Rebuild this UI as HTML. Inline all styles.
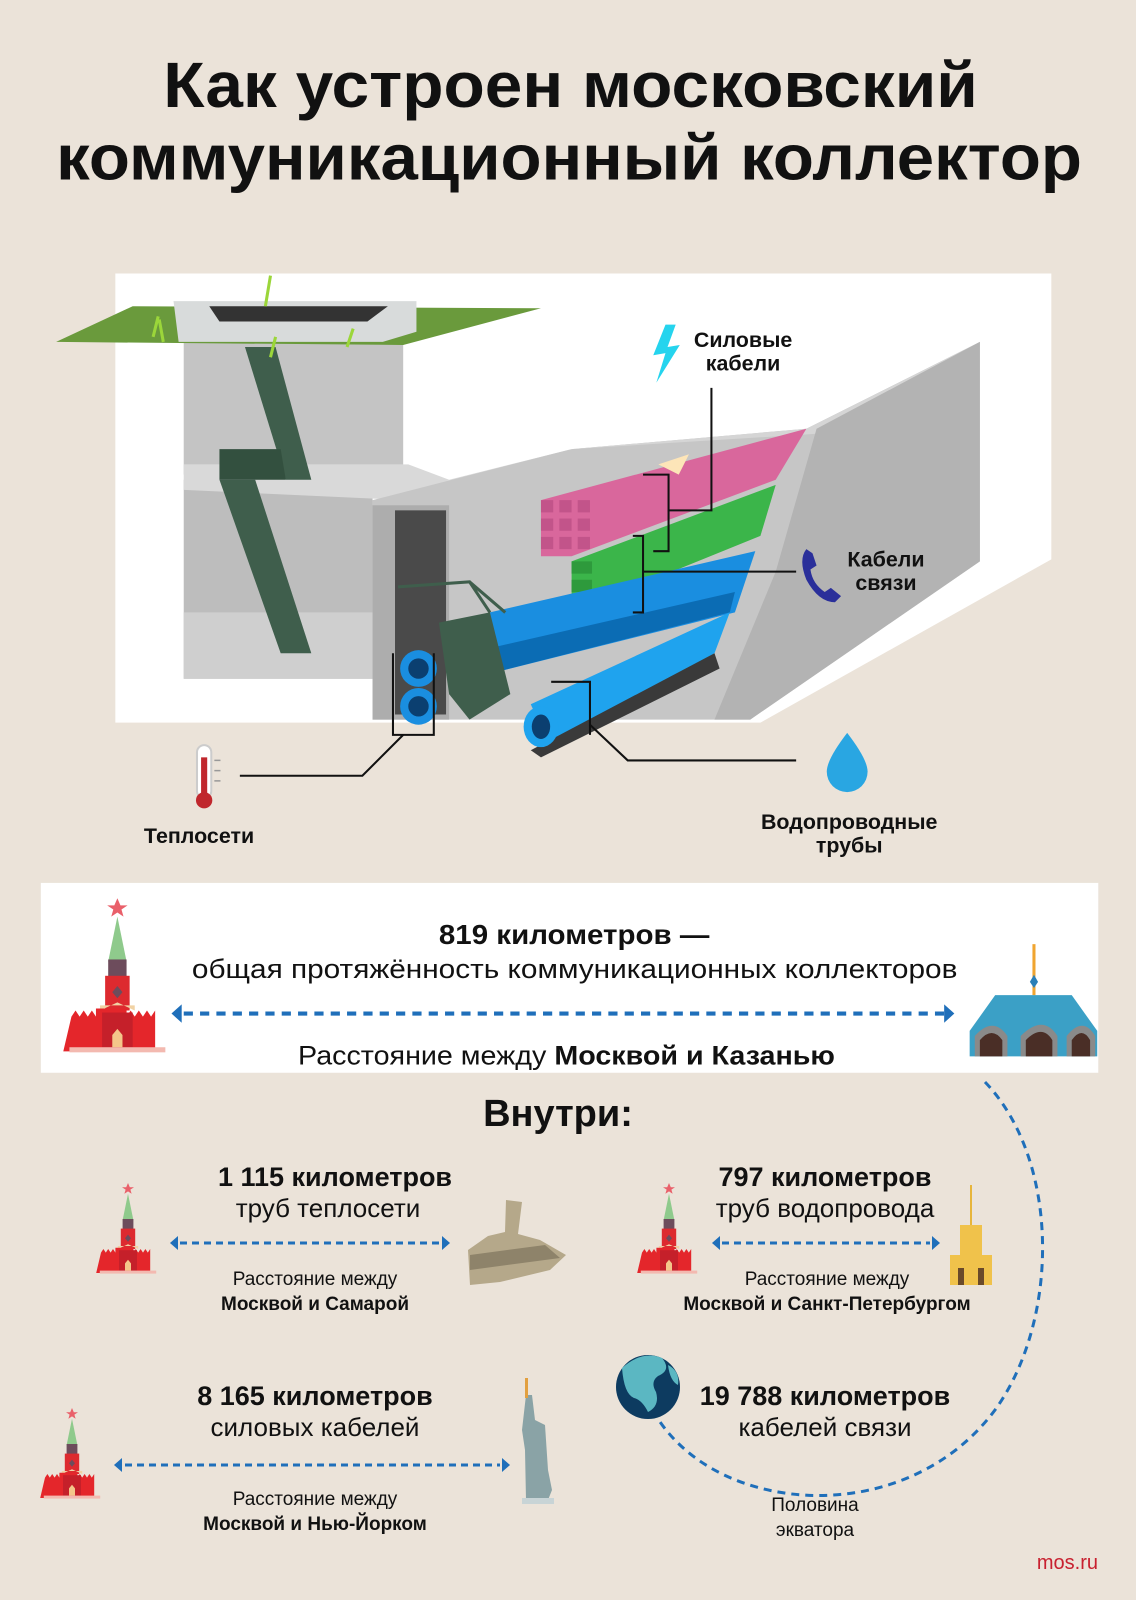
<!DOCTYPE html>
<html><head><meta charset="utf-8">
<style>
html,body{margin:0;padding:0;background:#ebe3d9;}
svg{display:block;}
text{font-family:"Liberation Sans","Noto Sans CJK SC",sans-serif;fill:#111;}
.b{font-weight:bold;}
</style></head>
<body>
<svg width="1136" height="1600" viewBox="0 0 1136 1600" xmlns="http://www.w3.org/2000/svg">
<defs>
<g id="kr">
  <polygon points="45,0 48,7 55,7 49,11 51,18 45,14 39,18 41,11 35,7 42,7" fill="#e9606a"/>
  <polygon points="45,18 36,62 54,62" fill="#8fca8c"/>
  <rect x="36" y="60" width="18" height="18" fill="#6d4c5c"/>
  <rect x="33" y="76" width="24" height="34" fill="#dd2a2f"/>
  <polygon points="45,86 50,92 45,98 40,92" fill="#6d4c5c"/>
  <polygon points="28,105 62,105 62,110 45,102 28,110" fill="#f1d2a4"/>
  <path d="M0,116 l4,-6 4,6 4,-6 4,6 4,-6 4,6 0,-8 30,0 0,8 4,-6 4,6 4,-6 4,6 4,-6 4,6 4,-6 0,40 -90,0z" fill="#e4262b"/>
  <rect x="30" y="112" width="30" height="34" fill="#c5202a"/>
  <polygon points="40,146 40,134 45,128 50,134 50,146" fill="#f4c68a"/>
  <rect x="-2" y="146" width="94" height="5" fill="#f3b9b0"/>
</g>
</defs>

<g transform="scale(1.0207)">
<!-- Title -->
<text x="160" y="105" class="b" font-size="63" textLength="798" lengthAdjust="spacingAndGlyphs">Как устроен московский</text>
<text x="55" y="176" class="b" font-size="63" textLength="1005" lengthAdjust="spacingAndGlyphs">коммуникационный коллектор</text>

<!-- white illustration area -->
<polygon points="113,268 1030,268 1030,548 745,708 113,708" fill="#ffffff"/>

<rect x="180" y="330" width="215" height="135" fill="#c4c4c4"/>
<rect x="180" y="470" width="185" height="195" fill="#bdbdbd"/>
<polygon points="180,600 365,600 365,665 180,665" fill="#cfcfcf"/>
<polygon points="180,455 400,455 440,470 560,440 400,490 180,480" fill="#d9d9d9"/>
<polygon points="365,490 560,440 790,420 960,335 960,550 735,705 365,705" fill="#c6c6c6"/>
<polygon points="560,440 790,420 960,335 960,345 800,425" fill="#d5d5d5"/>
<polygon points="800,420 960,335 960,550 735,705 700,705 760,560" fill="#b3b3b3"/>
<polygon points="365,495 440,495 440,705 365,705" fill="#adadad"/>
<rect x="387" y="500" width="50" height="200" fill="#4a4a4a"/>
<polygon points="240,340 270,340 305,470 280,470" fill="#3f5e4c"/>
<polygon points="215,470 250,470 305,640 275,640" fill="#3f5e4c"/>
<polygon points="215,440 275,440 280,470 215,470" fill="#33503f"/>
<polygon points="55,335 130,300 530,302 395,338" fill="#6a9a3c"/>
<polygon points="170,295 408,295 408,325 375,335 175,335" fill="#d8dbdb"/>
<polygon points="205,300 380,300 360,315 215,315" fill="#333"/>
<path d="M150,330 l5,-20 M160,335 l-4,-22 M260,300 l5,-30 M265,350 l5,-20 M340,340 l6,-18" stroke="#9bd63a" stroke-width="3"/>
<polygon points="530,490 790,420 760,470 560,545 530,545" fill="#d9679c"/>
<g fill="#c2548a">
<rect x="530" y="490" width="12" height="12"/><rect x="548" y="490" width="12" height="12"/><rect x="566" y="490" width="12" height="12"/>
<rect x="530" y="508" width="12" height="12"/><rect x="548" y="508" width="12" height="12"/><rect x="566" y="508" width="12" height="12"/>
<rect x="530" y="526" width="12" height="12"/><rect x="548" y="526" width="12" height="12"/><rect x="566" y="526" width="12" height="12"/>
</g>
<polygon points="645,455 675,445 665,465" fill="#fde5b8"/>
<polygon points="560,550 760,475 745,525 560,600" fill="#3bb54a"/>
<g fill="#2e9a3c"><rect x="560" y="550" width="20" height="12"/><rect x="560" y="568" width="20" height="12"/><rect x="560" y="586" width="20" height="12"/></g>
<polygon points="480,600 740,540 720,600 480,660" fill="#1a8ee0"/>
<polygon points="480,635 720,580 715,600 480,660" fill="#0b6cb4"/>
<polygon points="520,690 715,600 700,640 540,735" fill="#1fa3ee"/>
<polygon points="520,735 700,640 705,655 530,742" fill="#3a3a3a"/>
<circle cx="410" cy="655" r="18" fill="#1a8ee0"/><circle cx="410" cy="655" r="10" fill="#0b3f70"/>
<circle cx="410" cy="692" r="18" fill="#1a8ee0"/><circle cx="410" cy="692" r="10" fill="#0b3f70"/>
<ellipse cx="530" cy="712" rx="17" ry="20" fill="#1fa3ee"/><ellipse cx="530" cy="712" rx="9" ry="12" fill="#0b3f70"/>
<polygon points="430,610 480,600 500,680 460,705 440,680" fill="#3f5e4c"/>
<path d="M390,575 L460,570 L480,600 M460,570 L495,600" stroke="#3f5e4c" stroke-width="3" fill="none"/>

<g stroke="#111" stroke-width="2" fill="none">
<polyline points="697,380 697,500 655,500 655,465 630,465"/>
<polyline points="655,500 655,540 640,540"/>
<polyline points="780,560 630,560 630,600 620,600"/>
<polyline points="630,560 630,525 620,525"/>
<polyline points="385,640 385,720 425,720 425,640"/>
<polyline points="395,720 355,760 235,760"/>
<polyline points="540,668 578,668 578,720"/>
<polyline points="578,710 615,745 780,745"/>
</g>

<polygon points="652,318 640,348 652,346 643,375 666,338 654,340 662,318" fill="#25d4ee"/>
<path d="M790,538 q-8,10 0,30 q12,22 28,22 l6,-6 -10,-8 -6,4 q-12,-8 -14,-22 l6,-4 -4,-12z" fill="#2a2f9a"/>
<path d="M830,718 q-20,26 -20,38 a20,20 0 0 0 40,0 q0,-12 -20,-38z" fill="#29a6e2"/>
<rect x="193" y="730" width="14" height="52" rx="7" fill="#fff" stroke="#ccc" stroke-width="2"/>
<rect x="197" y="742" width="6" height="38" fill="#c0272d"/>
<circle cx="200" cy="784" r="8" fill="#c0272d"/>
<path d="M210,745 h6 M210,755 h6 M210,765 h6" stroke="#999" stroke-width="1.5"/>

<text x="728" y="340" text-anchor="middle" class="b" font-size="21">Силовые</text>
<text x="728" y="363" text-anchor="middle" class="b" font-size="21">кабели</text>
<text x="868" y="555" text-anchor="middle" class="b" font-size="21">Кабели</text>
<text x="868" y="578" text-anchor="middle" class="b" font-size="21">связи</text>
<text x="195" y="826" text-anchor="middle" class="b" font-size="21">Теплосети</text>
<text x="832" y="812" text-anchor="middle" class="b" font-size="21">Водопроводные</text>
<text x="832" y="835" text-anchor="middle" class="b" font-size="21">трубы</text>

<rect x="40" y="865" width="1036" height="186" fill="#fff"/>
<use href="#kr" x="70" y="880"/>
<text x="430" y="925" class="b" font-size="27" textLength="265" lengthAdjust="spacingAndGlyphs">819 километров —</text>
<text x="188" y="958" font-size="26" textLength="750" lengthAdjust="spacingAndGlyphs">общая протяжённость коммуникационных коллекторов</text>
<line x1="180" y1="993" x2="925" y2="993" stroke="#1f6fba" stroke-width="4" stroke-dasharray="9,7"/>
<polygon points="168,993 178,984 178,1002" fill="#1f6fba"/>
<polygon points="935,993 925,984 925,1002" fill="#1f6fba"/>
<text x="292" y="1043" font-size="26" textLength="526" lengthAdjust="spacingAndGlyphs">Расстояние между <tspan class="b">Москвой и Казанью</tspan></text>
<line x1="1013" y1="925" x2="1013" y2="975" stroke="#f0a530" stroke-width="3"/>
<polygon points="1013,955 1017,962 1013,968 1009,962" fill="#2a7fb8"/>
<polygon points="975,975 1050,975 1075,1010 1075,1035 950,1035 950,1010" fill="#3ba0c6"/>
<path d="M955,1035 v-20 q18,-20 32,0 v20z M1000,1035 v-20 q22,-22 36,0 v20z M1045,1035 v-20 q16,-20 28,0 v20z" fill="#8a8a8a"/>
<path d="M960,1035 v-16 q12,-14 22,0 v16z M1005,1035 v-16 q16,-16 26,0 v16z M1050,1035 v-16 q10,-14 18,0 v16z" fill="#4a2e26"/>
</g>

<!-- Внутри -->
<text x="558" y="1126" text-anchor="middle" class="b" font-size="38">Внутри:</text>
<path d="M985,1082 C1060,1160 1060,1320 995,1410 C935,1490 835,1508 760,1488 C710,1475 670,1445 650,1405" fill="none" stroke="#1f6fba" stroke-width="3" stroke-dasharray="8,6"/>

<use href="#kr" transform="translate(101,1183) scale(0.6)"/>
<text x="335" y="1186" text-anchor="middle" class="b" font-size="27">1 115 километров</text>
<text x="328" y="1217" text-anchor="middle" font-size="26">труб теплосети</text>
<line x1="180" y1="1243" x2="440" y2="1243" stroke="#1f6fba" stroke-width="3" stroke-dasharray="7,5"/>
<polygon points="170,1243 178,1236 178,1250" fill="#1f6fba"/><polygon points="450,1243 442,1236 442,1250" fill="#1f6fba"/>
<text x="315" y="1285" text-anchor="middle" font-size="19">Расстояние между</text>
<text x="315" y="1310" text-anchor="middle" class="b" font-size="19">Москвой и Самарой</text>
<polygon points="488,1236 505,1232 506,1200 522,1202 518,1234 540,1240 566,1255 550,1270 500,1282 470,1285 468,1250" fill="#b5a88a"/>
<polygon points="470,1255 545,1245 560,1258 470,1270" fill="#8e836a"/>

<use href="#kr" transform="translate(642,1183) scale(0.6)"/>
<text x="825" y="1186" text-anchor="middle" class="b" font-size="27">797 километров</text>
<text x="825" y="1217" text-anchor="middle" font-size="26">труб водопровода</text>
<line x1="722" y1="1243" x2="930" y2="1243" stroke="#1f6fba" stroke-width="3" stroke-dasharray="7,5"/>
<polygon points="712,1243 720,1236 720,1250" fill="#1f6fba"/><polygon points="940,1243 932,1236 932,1250" fill="#1f6fba"/>
<text x="827" y="1285" text-anchor="middle" font-size="19">Расстояние между</text>
<text x="827" y="1310" text-anchor="middle" class="b" font-size="19">Москвой и Санкт-Петербургом</text>
<line x1="971" y1="1185" x2="971" y2="1225" stroke="#e7b53b" stroke-width="2"/>
<rect x="960" y="1225" width="22" height="30" fill="#f0c24b"/>
<rect x="950" y="1255" width="42" height="30" fill="#f0c24b"/>
<rect x="958" y="1268" width="6" height="17" fill="#6a4a2a"/><rect x="978" y="1268" width="6" height="17" fill="#6a4a2a"/>

<use href="#kr" transform="translate(45,1408) scale(0.6)"/>
<text x="315" y="1405" text-anchor="middle" class="b" font-size="27">8 165 километров</text>
<text x="315" y="1436" text-anchor="middle" font-size="26">силовых кабелей</text>
<line x1="125" y1="1465" x2="500" y2="1465" stroke="#1f6fba" stroke-width="3" stroke-dasharray="7,5"/>
<polygon points="114,1465 122,1458 122,1472" fill="#1f6fba"/><polygon points="510,1465 502,1458 502,1472" fill="#1f6fba"/>
<text x="315" y="1505" text-anchor="middle" font-size="19">Расстояние между</text>
<text x="315" y="1530" text-anchor="middle" class="b" font-size="19">Москвой и Нью-Йорком</text>
<polygon points="526,1395 532,1395 535,1420 545,1425 548,1470 552,1490 548,1500 526,1500 525,1450 522,1430" fill="#8aa3a6"/>
<rect x="525" y="1378" width="3" height="20" fill="#e2a040"/>
<rect x="522" y="1498" width="32" height="6" fill="#c8d4d6"/>

<circle cx="648" cy="1387" r="32" fill="#0d3b60"/>
<path d="M622,1368 q20,-18 40,-10 q10,12 -4,18 q-8,6 -2,16 q4,14 -8,20 q-6,-12 -14,-14 q-10,-4 -12,-30z M668,1365 q12,6 10,20 q-8,-4 -10,-20z" fill="#5bb7c2"/>
<text x="825" y="1405" text-anchor="middle" class="b" font-size="27">19 788 километров</text>
<text x="825" y="1436" text-anchor="middle" font-size="26">кабелей связи</text>
<text x="815" y="1511" text-anchor="middle" font-size="19">Половина</text>
<text x="815" y="1536" text-anchor="middle" font-size="19">экватора</text>
<text x="1098" y="1569" text-anchor="end" font-size="20" style="fill:#c8202f">mos.ru</text>
</svg>
</body></html>
